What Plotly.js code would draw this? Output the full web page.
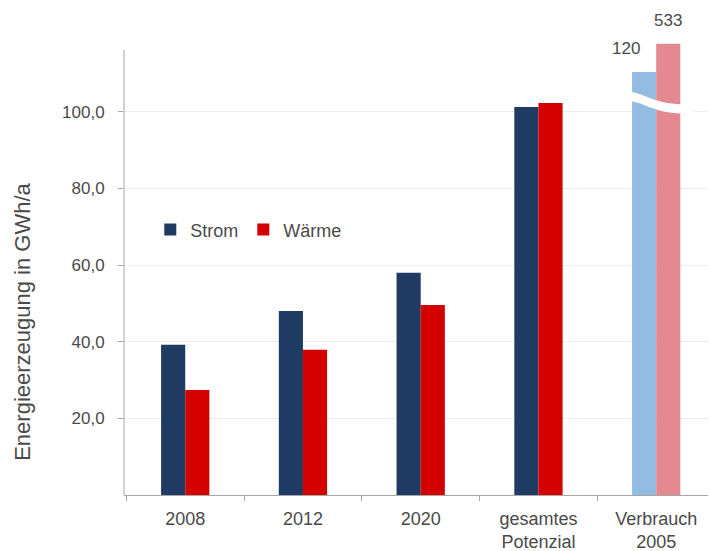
<!DOCTYPE html>
<html>
<head>
<meta charset="utf-8">
<script src="https://cdn.plot.ly/plotly-3.0.1.min.js"></script>
<style>html,body{margin:0;padding:0;background:#fff;}#chart{width:710px;height:551px;}</style>
</head>
<body>
<div id="chart"></div>
<script>
// Categories and values (GWh/a)
const categories = ["2008", "2012", "2020", "gesamtes<br>Potenzial", "Verbrauch<br>2005"];
const strom = [39.2, 48.0, 58.0, 101.3, 110.4];   // last bar: broken axis, drawn height
const waerme = [27.4, 37.9, 49.6, 102.3, 117.8];  // last bar: broken axis, drawn height
const verbrauchLabels = ["120", "533"];           // true values written above broken bars
const yTicks = [20, 40, 60, 80, 100];
const yTickText = ["20,0", "40,0", "60,0", "80,0", "100,0"];

const stromColors = ["#1f3a63", "#1f3a63", "#1f3a63", "#1f3a63", "#93bce3"];
const waermeColors = ["#d40000", "#d40000", "#d40000", "#d40000", "#e3898f"];

const font = "Liberation Sans, Arial, sans-serif";
const txt = "#4a4a4a";

const traces = [
  {type: "bar", name: "Strom", x: categories, y: strom,
   marker: {color: stromColors}, hoverinfo: "x+y"},
  {type: "bar", name: "Wärme", x: categories, y: waerme,
   marker: {color: waermeColors}, hoverinfo: "x+y"}
];

const layout = {
  width: 710, height: 551,
  paper_bgcolor: "#fff", plot_bgcolor: "#fff",
  margin: {l: 124, r: 2, t: 41, b: 56},
  barmode: "group", bargap: 0.59, bargroupgap: 0,
  font: {family: font, size: 18, color: txt},
  showlegend: true,
  legend: {orientation: "h", x: 0.045, y: 0.584, xanchor: "left", yanchor: "middle",
           bgcolor: "rgba(0,0,0,0)", font: {size: 18, color: txt}, itemwidth: 30},
  xaxis: {type: "category", range: [-0.52, 4.44], showline: true, linecolor: "#a6a6a6", linewidth: 1,
          ticks: "outside", tickson: "boundaries", ticklen: 5, tickcolor: "#a6a6a6",
          tickfont: {size: 18, color: txt}, ticklabelstandoff: 7, showgrid: false, zeroline: false, fixedrange: true},
  yaxis: {range: [0, 118.5], showline: false,
          tickvals: yTicks, ticktext: yTickText, ticks: "outside", ticklen: 5, tickcolor: "#a6a6a6",
          tickfont: {size: 17, color: txt}, ticklabelstandoff: 10,
          showgrid: true, gridcolor: "#ececec", gridwidth: 1, zeroline: false, fixedrange: true},
  annotations: [
    {text: "Energieerzeugung in GWh/a", textangle: -90, xref: "paper", yref: "paper",
     x: -0.175, y: 0.381, xanchor: "center", yanchor: "middle", showarrow: false,
     font: {size: 22, color: txt}},
    {text: verbrauchLabels[0], xref: "x", yref: "y", x: 4, y: strom[4], xshift: -30,
     yanchor: "bottom", yshift: 12, showarrow: false, font: {size: 17, color: txt}},
    {text: verbrauchLabels[1], xref: "x", yref: "y", x: 4, y: waerme[4], xshift: 12,
     yanchor: "bottom", yshift: 12, showarrow: false, font: {size: 17, color: txt}}
  ],
  shapes: [
    // y-axis line (ends below the top of the plot area, as in the original)
    {type: "line", xref: "paper", yref: "y", x0: 0, x1: 0, y0: 0, y1: 116.2,
     line: {color: "#a6a6a6", width: 1}},
    // axis-break wave across the Verbrauch bars
    {type: "path", xref: "x", yref: "y", layer: "above", fillcolor: "#ffffff", line: {width: 0},
     path: "M 3.68,104.6 C 3.85,107.2 3.95,100.8 4.32,102.2 L 4.32,99.8 C 3.95,98.4 3.85,104.8 3.68,102.2 Z"}
  ]
};

Plotly.newPlot("chart", traces, layout, {displayModeBar: false, staticPlot: true});
</script>
</body>
</html>
